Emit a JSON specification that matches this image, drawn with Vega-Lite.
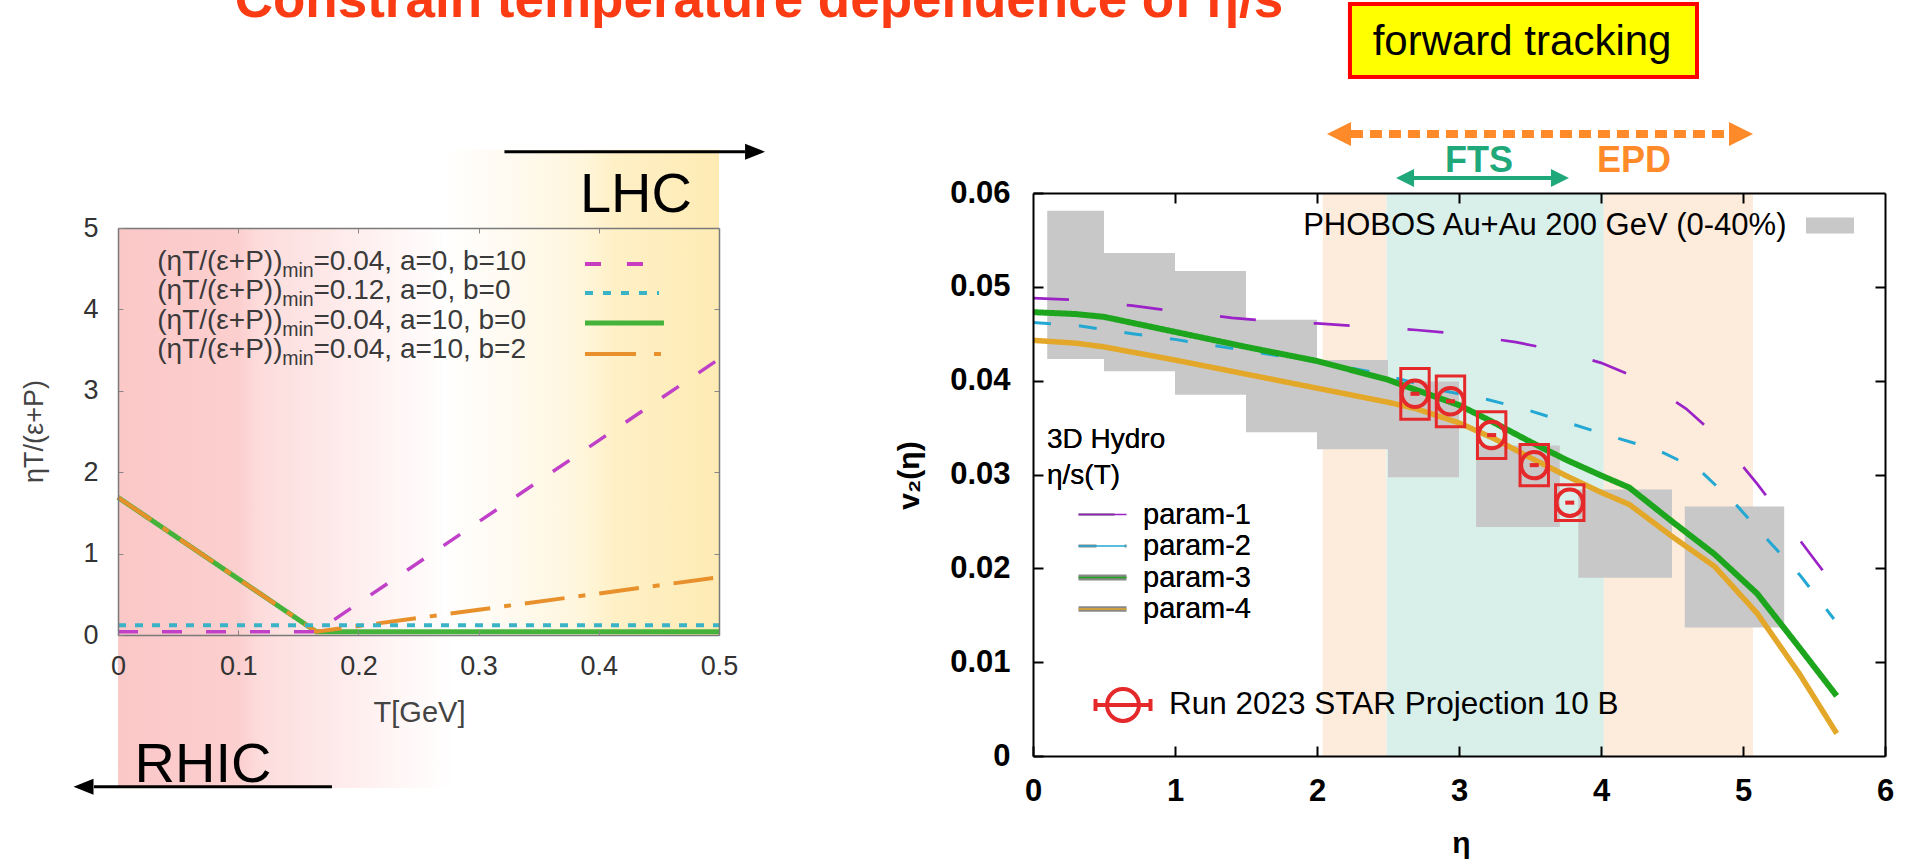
{
  "$schema": "https://vega.github.io/schema/vega-lite/v6.json",
  "width": 1911,
  "height": 864,
  "padding": 0,
  "autosize": {"type": "none"},
  "background": "white",
  "config": {
    "view": {"stroke": null},
    "font": "Liberation Sans",
    "axis": {"grid": false, "labelFlush": false, "labelOverlap": false},
    "legend": {"padding": 0, "labelLimit": 1000, "titleLimit": 1000}
  },
  "datasets": {
    "shear": [
      {"curve": "min=0.04, a=10, b=0", "T": 0, "ratio": 1.69},
      {"curve": "min=0.04, a=10, b=0", "T": 0.165, "ratio": 0.04},
      {"curve": "min=0.04, a=10, b=0", "T": 0.5, "ratio": 0.04},
      {"curve": "min=0.04, a=10, b=2", "T": 0, "ratio": 1.69},
      {"curve": "min=0.04, a=10, b=2", "T": 0.165, "ratio": 0.04},
      {"curve": "min=0.04, a=10, b=2", "T": 0.5, "ratio": 0.71},
      {"curve": "min=0.12, a=0, b=0", "T": 0, "ratio": 0.12},
      {"curve": "min=0.12, a=0, b=0", "T": 0.5, "ratio": 0.12},
      {"curve": "min=0.04, a=0, b=10", "T": 0, "ratio": 0.04},
      {"curve": "min=0.04, a=0, b=10", "T": 0.165, "ratio": 0.04},
      {"curve": "min=0.04, a=0, b=10", "T": 0.5, "ratio": 3.39}
    ],
    "bands": [
      {"detector": "EPD", "eta_lo": 2.04, "eta_hi": 2.49},
      {"detector": "FTS", "eta_lo": 2.49, "eta_hi": 4.02},
      {"detector": "EPD", "eta_lo": 4.02, "eta_hi": 5.07}
    ],
    "phobos": [
      {"dataset": "PHOBOS Au+Au 200 GeV (0-40%)", "eta_lo": 0.1, "eta_hi": 0.5, "v2_lo": 0.0423, "v2_hi": 0.0581},
      {"dataset": "PHOBOS Au+Au 200 GeV (0-40%)", "eta_lo": 0.5, "eta_hi": 1.0, "v2_lo": 0.0410, "v2_hi": 0.0536},
      {"dataset": "PHOBOS Au+Au 200 GeV (0-40%)", "eta_lo": 1.0, "eta_hi": 1.5, "v2_lo": 0.0385, "v2_hi": 0.0517},
      {"dataset": "PHOBOS Au+Au 200 GeV (0-40%)", "eta_lo": 1.5, "eta_hi": 2.0, "v2_lo": 0.0345, "v2_hi": 0.0465},
      {"dataset": "PHOBOS Au+Au 200 GeV (0-40%)", "eta_lo": 2.0, "eta_hi": 2.5, "v2_lo": 0.0327, "v2_hi": 0.0422},
      {"dataset": "PHOBOS Au+Au 200 GeV (0-40%)", "eta_lo": 2.5, "eta_hi": 3.0, "v2_lo": 0.0297, "v2_hi": 0.0399},
      {"dataset": "PHOBOS Au+Au 200 GeV (0-40%)", "eta_lo": 3.12, "eta_hi": 3.71, "v2_lo": 0.0244, "v2_hi": 0.0331},
      {"dataset": "PHOBOS Au+Au 200 GeV (0-40%)", "eta_lo": 3.84, "eta_hi": 4.5, "v2_lo": 0.0190, "v2_hi": 0.0284},
      {"dataset": "PHOBOS Au+Au 200 GeV (0-40%)", "eta_lo": 4.59, "eta_hi": 5.29, "v2_lo": 0.0137, "v2_hi": 0.0266}
    ],
    "hydro": [
      {"param": "param-1", "eta": 0, "v2": 0.0488},
      {"param": "param-1", "eta": 0.3, "v2": 0.0486},
      {"param": "param-1", "eta": 0.7, "v2": 0.0480},
      {"param": "param-1", "eta": 1.0, "v2": 0.0474},
      {"param": "param-1", "eta": 1.4, "v2": 0.0467},
      {"param": "param-1", "eta": 1.7, "v2": 0.0463},
      {"param": "param-1", "eta": 2.0, "v2": 0.0461},
      {"param": "param-1", "eta": 2.3, "v2": 0.0458},
      {"param": "param-1", "eta": 2.7, "v2": 0.0454},
      {"param": "param-1", "eta": 3.0, "v2": 0.0450},
      {"param": "param-1", "eta": 3.4, "v2": 0.0441},
      {"param": "param-1", "eta": 3.7, "v2": 0.0432},
      {"param": "param-1", "eta": 4.0, "v2": 0.0419},
      {"param": "param-1", "eta": 4.3, "v2": 0.0400},
      {"param": "param-1", "eta": 4.6, "v2": 0.0370},
      {"param": "param-1", "eta": 4.85, "v2": 0.0336},
      {"param": "param-1", "eta": 5.1, "v2": 0.0290},
      {"param": "param-1", "eta": 5.3, "v2": 0.0250},
      {"param": "param-1", "eta": 5.5, "v2": 0.0210},
      {"param": "param-1", "eta": 5.66, "v2": 0.0178},
      {"param": "param-2", "eta": 0, "v2": 0.0462},
      {"param": "param-2", "eta": 0.3, "v2": 0.0459},
      {"param": "param-2", "eta": 0.7, "v2": 0.0450},
      {"param": "param-2", "eta": 1.0, "v2": 0.0444},
      {"param": "param-2", "eta": 1.5, "v2": 0.0432},
      {"param": "param-2", "eta": 2.0, "v2": 0.0420},
      {"param": "param-2", "eta": 2.4, "v2": 0.0409},
      {"param": "param-2", "eta": 2.9, "v2": 0.0389},
      {"param": "param-2", "eta": 3.2, "v2": 0.0380},
      {"param": "param-2", "eta": 3.5, "v2": 0.0368},
      {"param": "param-2", "eta": 3.75, "v2": 0.0356},
      {"param": "param-2", "eta": 4.0, "v2": 0.0344},
      {"param": "param-2", "eta": 4.4, "v2": 0.0326},
      {"param": "param-2", "eta": 4.7, "v2": 0.0304},
      {"param": "param-2", "eta": 4.95, "v2": 0.0268},
      {"param": "param-2", "eta": 5.2, "v2": 0.0226},
      {"param": "param-2", "eta": 5.4, "v2": 0.0193},
      {"param": "param-2", "eta": 5.64, "v2": 0.0146},
      {"param": "param-3", "eta": 0, "v2": 0.0473},
      {"param": "param-3", "eta": 0.3, "v2": 0.0471},
      {"param": "param-3", "eta": 0.5, "v2": 0.0468},
      {"param": "param-3", "eta": 1.0, "v2": 0.0452},
      {"param": "param-3", "eta": 1.5, "v2": 0.0436},
      {"param": "param-3", "eta": 2.0, "v2": 0.0421},
      {"param": "param-3", "eta": 2.5, "v2": 0.0401},
      {"param": "param-3", "eta": 2.7, "v2": 0.0390},
      {"param": "param-3", "eta": 3.0, "v2": 0.0374},
      {"param": "param-3", "eta": 3.25, "v2": 0.0355},
      {"param": "param-3", "eta": 3.5, "v2": 0.0335},
      {"param": "param-3", "eta": 3.75, "v2": 0.0316},
      {"param": "param-3", "eta": 4.0, "v2": 0.0299},
      {"param": "param-3", "eta": 4.2, "v2": 0.0286},
      {"param": "param-3", "eta": 4.5, "v2": 0.0250},
      {"param": "param-3", "eta": 4.8, "v2": 0.0215},
      {"param": "param-3", "eta": 5.1, "v2": 0.0173},
      {"param": "param-3", "eta": 5.4, "v2": 0.0115},
      {"param": "param-3", "eta": 5.66, "v2": 0.0064},
      {"param": "param-4", "eta": 0, "v2": 0.0443},
      {"param": "param-4", "eta": 0.3, "v2": 0.0440},
      {"param": "param-4", "eta": 0.5, "v2": 0.0436},
      {"param": "param-4", "eta": 1.0, "v2": 0.0422},
      {"param": "param-4", "eta": 1.5, "v2": 0.0407},
      {"param": "param-4", "eta": 2.0, "v2": 0.0392},
      {"param": "param-4", "eta": 2.5, "v2": 0.0377},
      {"param": "param-4", "eta": 2.7, "v2": 0.0370},
      {"param": "param-4", "eta": 3.0, "v2": 0.0355},
      {"param": "param-4", "eta": 3.25, "v2": 0.0338},
      {"param": "param-4", "eta": 3.5, "v2": 0.0318},
      {"param": "param-4", "eta": 3.75, "v2": 0.0299},
      {"param": "param-4", "eta": 4.0, "v2": 0.0281},
      {"param": "param-4", "eta": 4.2, "v2": 0.0268},
      {"param": "param-4", "eta": 4.5, "v2": 0.0234},
      {"param": "param-4", "eta": 4.8, "v2": 0.0202},
      {"param": "param-4", "eta": 5.1, "v2": 0.0152},
      {"param": "param-4", "eta": 5.4, "v2": 0.0087},
      {"param": "param-4", "eta": 5.66, "v2": 0.0024}
    ],
    "star": [
      {"series": "Run 2023 STAR Projection 10 B", "eta": 2.69, "v2": 0.0386, "eta_lo": 2.59, "eta_hi": 2.79, "v2_lo": 0.0359, "v2_hi": 0.0413},
      {"series": "Run 2023 STAR Projection 10 B", "eta": 2.94, "v2": 0.0378, "eta_lo": 2.84, "eta_hi": 3.04, "v2_lo": 0.0351, "v2_hi": 0.0405},
      {"series": "Run 2023 STAR Projection 10 B", "eta": 3.23, "v2": 0.0342, "eta_lo": 3.13, "eta_hi": 3.33, "v2_lo": 0.0317, "v2_hi": 0.0367},
      {"series": "Run 2023 STAR Projection 10 B", "eta": 3.53, "v2": 0.0310, "eta_lo": 3.43, "eta_hi": 3.63, "v2_lo": 0.0288, "v2_hi": 0.0332},
      {"series": "Run 2023 STAR Projection 10 B", "eta": 3.78, "v2": 0.0270, "eta_lo": 3.68, "eta_hi": 3.88, "v2_lo": 0.0251, "v2_hi": 0.0289}
    ]
  },
  "resolve": {"scale": {"x": "independent", "y": "independent", "color": "independent", "strokeDash": "independent", "strokeWidth": "independent"}},
  "layer": [
    {
      "resolve": {"axis": {"x": "independent", "y": "independent"}},
      "layer": [
        {
          "data": {"values": [{}]},
          "mark": {"type": "rect", "fill": {"gradient": "linear", "x1": 0, "y1": 0, "x2": 1, "y2": 0, "stops": [
            {"offset": 0, "color": "#fbc7c7"}, {"offset": 0.36, "color": "#fccfcf"}, {"offset": 0.42, "color": "#fddcdc"},
            {"offset": 0.65, "color": "#feeaea"}, {"offset": 0.85, "color": "#fff7f7"}, {"offset": 1, "color": "#ffffff"}]}},
          "encoding": {
            "x": {"datum": 0, "type": "quantitative", "scale": {"domain": [0, 0.5], "range": [118, 719], "nice": false, "zero": false}, "axis": null},
            "x2": {"datum": 0.28},
            "y": {"datum": -1.88, "type": "quantitative", "scale": {"domain": [0, 5], "range": [635, 228], "nice": false, "zero": false}, "axis": null},
            "y2": {"datum": 5}
          }
        },
        {
          "data": {"values": [{}]},
          "mark": {"type": "rect", "fill": {"gradient": "linear", "x1": 0, "y1": 0, "x2": 1, "y2": 0, "stops": [
            {"offset": 0, "color": "#ffffff"}, {"offset": 0.25, "color": "#fffaf0"}, {"offset": 0.5, "color": "#fff6dc"},
            {"offset": 0.62, "color": "#fff0c6"}, {"offset": 1, "color": "#feebb4"}]}},
          "encoding": {
            "x": {"datum": 0.27, "type": "quantitative", "scale": {"domain": [0, 0.5], "range": [118, 719], "nice": false, "zero": false}, "axis": null},
            "x2": {"datum": 0.5},
            "y": {"datum": 0, "type": "quantitative", "scale": {"domain": [0, 5], "range": [635, 228], "nice": false, "zero": false}, "axis": null},
            "y2": {"datum": 5.96}
          }
        },
        {
          "data": {"name": "shear"},
          "transform": [{"filter": {"field": "curve", "oneOf": ["min=0.04, a=10, b=0", "min=0.04, a=10, b=2"]}}],
          "mark": {"type": "line"},
          "encoding": {
            "x": {"field": "T", "type": "quantitative", "scale": {"domain": [0, 0.5], "range": [118, 719], "nice": false, "zero": false},
              "axis": {"orient": "bottom", "offset": -229, "zindex": 1, "values": [0, 0.1, 0.2, 0.3, 0.4, 0.5], "labelExpr": "datum.value == 0 ? '0' : format(datum.value, '.1f')",
                "labelFontSize": 27, "labelColor": "#333333", "labelPadding": 23, "tickSize": -5, "tickColor": "#888888", "domainColor": "#7a7a7a", "domainWidth": 1.5,
                "title": "T[GeV]", "titleFontSize": 29, "titleFontWeight": "normal", "titleColor": "#444444", "titleX": 419, "titleY": 77, "titleBaseline": "middle", "titleAlign": "center"}},
            "y": {"field": "ratio", "type": "quantitative", "scale": {"domain": [0, 5], "range": [635, 228], "nice": false, "zero": false},
              "axis": {"orient": "left", "offset": -118, "zindex": 1, "values": [0, 1, 2, 3, 4, 5], "labelFontSize": 27, "labelColor": "#333333", "labelPadding": 25,
                "tickSize": -5, "tickColor": "#888888", "domainColor": "#7a7a7a", "domainWidth": 1.5,
                "title": "ηT/(ε+P)", "titleFontSize": 27, "titleFontWeight": "normal", "titleColor": "#444444", "titleX": -84, "titleY": 431, "titleBaseline": "middle", "titleAlign": "center"}},
            "color": {"field": "curve", "type": "nominal", "legend": null,
              "scale": {"domain": ["min=0.04, a=0, b=10", "min=0.12, a=0, b=0", "min=0.04, a=10, b=0", "min=0.04, a=10, b=2"], "range": ["#c040c8", "#3ab3c6", "#45b23a", "#e8912c"]}},
            "strokeDash": {"field": "curve", "type": "nominal", "legend": null,
              "scale": {"domain": ["min=0.04, a=0, b=10", "min=0.12, a=0, b=0", "min=0.04, a=10, b=0", "min=0.04, a=10, b=2"], "range": [[20, 24], [8, 9], [1, 0], [40, 14, 7, 14]]}},
            "strokeWidth": {"field": "curve", "type": "ordinal", "legend": null,
              "scale": {"type": "ordinal", "domain": ["min=0.04, a=0, b=10", "min=0.12, a=0, b=0", "min=0.04, a=10, b=0", "min=0.04, a=10, b=2"], "range": [3.5, 4, 5, 4]}}
          }
        },
        {
          "data": {"name": "shear"},
          "transform": [{"filter": {"field": "curve", "oneOf": ["min=0.12, a=0, b=0", "min=0.04, a=0, b=10"]}}],
          "mark": {"type": "line"},
          "encoding": {
            "x": {"field": "T", "type": "quantitative", "scale": {"domain": [0, 0.5], "range": [118, 719], "nice": false, "zero": false},
              "axis": {"orient": "top", "offset": -228, "zindex": 1, "values": [0.1, 0.2, 0.3, 0.4], "labels": false, "tickSize": -5, "tickColor": "#888888", "domainColor": "#7a7a7a", "domainWidth": 1.5, "title": null}},
            "y": {"field": "ratio", "type": "quantitative", "scale": {"domain": [0, 5], "range": [635, 228], "nice": false, "zero": false},
              "axis": {"orient": "right", "offset": -1192, "zindex": 1, "values": [1, 2, 3, 4], "labels": false, "tickSize": -5, "tickColor": "#888888", "domainColor": "#7a7a7a", "domainWidth": 1.5, "title": null}},
            "color": {"field": "curve", "type": "nominal", "legend": null,
              "scale": {"domain": ["min=0.04, a=0, b=10", "min=0.12, a=0, b=0", "min=0.04, a=10, b=0", "min=0.04, a=10, b=2"], "range": ["#c040c8", "#3ab3c6", "#45b23a", "#e8912c"]}},
            "strokeDash": {"field": "curve", "type": "nominal", "legend": null,
              "scale": {"domain": ["min=0.04, a=0, b=10", "min=0.12, a=0, b=0", "min=0.04, a=10, b=0", "min=0.04, a=10, b=2"], "range": [[20, 24], [8, 9], [1, 0], [40, 14, 7, 14]]}},
            "strokeWidth": {"field": "curve", "type": "ordinal", "legend": null,
              "scale": {"type": "ordinal", "domain": ["min=0.04, a=0, b=10", "min=0.12, a=0, b=0", "min=0.04, a=10, b=0", "min=0.04, a=10, b=2"], "range": [3.5, 4, 5, 4]}}
          }
        },
        {
          "data": {"values": [{}]},
          "mark": {"type": "text", "text": ["(ηT/(ε+P))", "(ηT/(ε+P))", "(ηT/(ε+P))", "(ηT/(ε+P))"], "align": "right", "baseline": "alphabetic", "dx": -15.5, "fontSize": 28, "lineHeight": 29.4, "color": "#3a3a3a"},
          "encoding": {
            "x": {"datum": 0.14975, "type": "quantitative", "scale": {"domain": [0, 0.5], "range": [118, 719], "nice": false, "zero": false}, "axis": null},
            "y": {"datum": 4.484, "type": "quantitative", "scale": {"domain": [0, 5], "range": [635, 228], "nice": false, "zero": false}, "axis": null}
          }
        },
        {
          "data": {"values": [{}]},
          "mark": {"type": "text", "text": ["min", "min", "min", "min"], "align": "center", "baseline": "alphabetic", "dy": 7, "fontSize": 19.5, "lineHeight": 29.4, "color": "#3a3a3a"},
          "encoding": {
            "x": {"datum": 0.14975, "type": "quantitative", "scale": {"domain": [0, 0.5], "range": [118, 719], "nice": false, "zero": false}, "axis": null},
            "y": {"datum": 4.484, "type": "quantitative", "scale": {"domain": [0, 5], "range": [635, 228], "nice": false, "zero": false}, "axis": null}
          }
        },
        {
          "data": {"values": [{}]},
          "mark": {"type": "text", "text": ["=0.04, a=0, b=10", "=0.12, a=0, b=0", "=0.04, a=10, b=0", "=0.04, a=10, b=2"], "align": "left", "baseline": "alphabetic", "dx": 15.5, "fontSize": 28, "lineHeight": 29.4, "color": "#3a3a3a"},
          "encoding": {
            "x": {"datum": 0.14975, "type": "quantitative", "scale": {"domain": [0, 0.5], "range": [118, 719], "nice": false, "zero": false}, "axis": null},
            "y": {"datum": 4.484, "type": "quantitative", "scale": {"domain": [0, 5], "range": [635, 228], "nice": false, "zero": false}, "axis": null}
          }
        },
        {
          "data": {"values": [{}]},
          "mark": {"type": "rule", "color": "#c83cc0", "strokeWidth": 4, "strokeDash": [16, 26]},
          "encoding": {
            "x": {"datum": 0.3885, "type": "quantitative", "scale": {"domain": [0, 0.5], "range": [118, 719], "nice": false, "zero": false}, "axis": null},
            "x2": {"datum": 0.4384},
            "y": {"datum": 4.5577, "type": "quantitative", "scale": {"domain": [0, 5], "range": [635, 228], "nice": false, "zero": false}, "axis": null}
          }
        },
        {
          "data": {"values": [{}]},
          "mark": {"type": "rule", "color": "#3ab3c6", "strokeWidth": 4, "strokeDash": [8, 10]},
          "encoding": {
            "x": {"datum": 0.3885, "type": "quantitative", "scale": {"domain": [0, 0.5], "range": [118, 719], "nice": false, "zero": false}, "axis": null},
            "x2": {"datum": 0.4501},
            "y": {"datum": 4.2015, "type": "quantitative", "scale": {"domain": [0, 5], "range": [635, 228], "nice": false, "zero": false}, "axis": null}
          }
        },
        {
          "data": {"values": [{}]},
          "mark": {"type": "rule", "color": "#45b23a", "strokeWidth": 5},
          "encoding": {
            "x": {"datum": 0.3885, "type": "quantitative", "scale": {"domain": [0, 0.5], "range": [118, 719], "nice": false, "zero": false}, "axis": null},
            "x2": {"datum": 0.4542},
            "y": {"datum": 3.8329, "type": "quantitative", "scale": {"domain": [0, 5], "range": [635, 228], "nice": false, "zero": false}, "axis": null}
          }
        },
        {
          "data": {"values": [{}]},
          "mark": {"type": "rule", "color": "#e8912c", "strokeWidth": 4, "strokeDash": [51, 18, 7, 18]},
          "encoding": {
            "x": {"datum": 0.3885, "type": "quantitative", "scale": {"domain": [0, 0.5], "range": [118, 719], "nice": false, "zero": false}, "axis": null},
            "x2": {"datum": 0.4517},
            "y": {"datum": 3.4521, "type": "quantitative", "scale": {"domain": [0, 5], "range": [635, 228], "nice": false, "zero": false}, "axis": null}
          }
        },
        {
          "data": {"values": [{}]},
          "mark": {"type": "text", "text": "LHC", "align": "center", "baseline": "alphabetic", "fontSize": 56, "color": "#000000"},
          "encoding": {
            "x": {"datum": 0.4309, "type": "quantitative", "scale": {"domain": [0, 0.5], "range": [118, 719], "nice": false, "zero": false}, "axis": null},
            "y": {"datum": 5.1966, "type": "quantitative", "scale": {"domain": [0, 5], "range": [635, 228], "nice": false, "zero": false}, "axis": null}
          }
        },
        {
          "data": {"values": [{}]},
          "mark": {"type": "text", "text": "RHIC", "align": "center", "baseline": "alphabetic", "fontSize": 56, "color": "#000000"},
          "encoding": {
            "x": {"datum": 0.0707, "type": "quantitative", "scale": {"domain": [0, 0.5], "range": [118, 719], "nice": false, "zero": false}, "axis": null},
            "y": {"datum": -1.806, "type": "quantitative", "scale": {"domain": [0, 5], "range": [635, 228], "nice": false, "zero": false}, "axis": null}
          }
        },
        {
          "data": {"values": [{}]},
          "mark": {"type": "rule", "color": "#000000", "strokeWidth": 3},
          "encoding": {
            "x": {"datum": 0.3215, "type": "quantitative", "scale": {"domain": [0, 0.5], "range": [118, 719], "nice": false, "zero": false}, "axis": null},
            "x2": {"datum": 0.5216},
            "y": {"datum": 5.9373, "type": "quantitative", "scale": {"domain": [0, 5], "range": [635, 228], "nice": false, "zero": false}, "axis": null}
          }
        },
        {
          "data": {"values": [{}]},
          "mark": {"type": "point", "shape": "M-1,-0.8L1,0L-1,0.8Z", "filled": true, "color": "#000000", "opacity": 1, "size": 400},
          "encoding": {
            "x": {"datum": 0.53, "type": "quantitative", "scale": {"domain": [0, 0.5], "range": [118, 719], "nice": false, "zero": false}, "axis": null},
            "y": {"datum": 5.9373, "type": "quantitative", "scale": {"domain": [0, 5], "range": [635, 228], "nice": false, "zero": false}, "axis": null}
          }
        },
        {
          "data": {"values": [{}]},
          "mark": {"type": "rule", "color": "#000000", "strokeWidth": 3},
          "encoding": {
            "x": {"datum": -0.02, "type": "quantitative", "scale": {"domain": [0, 0.5], "range": [118, 719], "nice": false, "zero": false}, "axis": null},
            "x2": {"datum": 0.178},
            "y": {"datum": -1.8636, "type": "quantitative", "scale": {"domain": [0, 5], "range": [635, 228], "nice": false, "zero": false}, "axis": null}
          }
        },
        {
          "data": {"values": [{}]},
          "mark": {"type": "point", "shape": "M1,-0.8L-1,0L1,0.8Z", "filled": true, "color": "#000000", "opacity": 1, "size": 400},
          "encoding": {
            "x": {"datum": -0.0287, "type": "quantitative", "scale": {"domain": [0, 0.5], "range": [118, 719], "nice": false, "zero": false}, "axis": null},
            "y": {"datum": -1.8636, "type": "quantitative", "scale": {"domain": [0, 5], "range": [635, 228], "nice": false, "zero": false}, "axis": null}
          }
        }
      ]
    },
    {
      "resolve": {"scale": {"color": "independent"}, "axis": {"x": "independent", "y": "independent"}},
      "layer": [
        {
          "data": {"name": "bands"},
          "mark": {"type": "rect"},
          "encoding": {
            "x": {"field": "eta_lo", "type": "quantitative", "scale": {"domain": [0, 6], "range": [1033, 1885], "nice": false, "zero": false}, "axis": null},
            "x2": {"field": "eta_hi"},
            "y": {"datum": 0, "type": "quantitative", "scale": {"domain": [0, 0.06], "range": [756, 193], "nice": false, "zero": false}, "axis": null},
            "y2": {"datum": 0.06},
            "color": {"field": "detector", "type": "nominal", "legend": null, "scale": {"domain": ["EPD", "FTS"], "range": ["#fdebdc", "#d9f0ea"]}}
          }
        },
        {
          "data": {"name": "phobos"},
          "mark": {"type": "rect"},
          "encoding": {
            "x": {"field": "eta_lo", "type": "quantitative", "scale": {"domain": [0, 6], "range": [1033, 1885], "nice": false, "zero": false},
              "axis": {"orient": "bottom", "offset": -108, "zindex": 1, "values": [0, 1, 2, 3, 4, 5, 6], "format": "d", "labelFontSize": 31, "labelFontWeight": "bold", "labelColor": "#000000", "labelPadding": 30,
                "tickSize": -10, "tickWidth": 2, "tickColor": "#000000", "domainColor": "#000000", "domainWidth": 2,
                "title": "η", "titleFontSize": 30, "titleFontWeight": "bold", "titleColor": "#000000", "titleX": 1461, "titleY": 96, "titleBaseline": "alphabetic", "titleAlign": "center"}},
            "x2": {"field": "eta_hi"},
            "y": {"field": "v2_lo", "type": "quantitative", "scale": {"domain": [0, 0.06], "range": [756, 193], "nice": false, "zero": false},
              "axis": {"orient": "left", "offset": -1033, "zindex": 1, "values": [0, 0.01, 0.02, 0.03, 0.04, 0.05, 0.06], "labelExpr": "datum.value == 0 ? '0' : format(datum.value, '.2f')",
                "labelFontSize": 31, "labelFontWeight": "bold", "labelColor": "#000000", "labelPadding": 33,
                "tickSize": -10, "tickWidth": 2, "tickColor": "#000000", "domainColor": "#000000", "domainWidth": 2,
                "title": "v₂(η)", "titleFontSize": 30, "titleFontWeight": "bold", "titleColor": "#000000", "titleX": -124, "titleY": 475, "titleBaseline": "middle", "titleAlign": "center"}},
            "y2": {"field": "v2_hi"},
            "color": {"field": "dataset", "type": "nominal", "scale": {"domain": ["PHOBOS Au+Au 200 GeV (0-40%)"], "range": ["#c8c8c8"]},
              "legend": {"orient": "none", "legendX": 1757, "legendY": 210, "title": null, "symbolType": "M-3,-1H3V1H-3Z", "symbolSize": 256, "symbolOffset": 57.5,
                "symbolStrokeWidth": 0, "labelAlign": "right", "labelOffset": -59, "labelFontSize": 31, "labelColor": "#000000"}}
          }
        },
        {
          "data": {"name": "hydro"},
          "mark": {"type": "line"},
          "encoding": {
            "x": {"field": "eta", "type": "quantitative", "scale": {"domain": [0, 6], "range": [1033, 1885], "nice": false, "zero": false},
              "axis": {"orient": "top", "offset": -193, "zindex": 1, "values": [1, 2, 3, 4, 5], "labels": false, "tickSize": -10, "tickWidth": 2, "tickColor": "#000000", "domainColor": "#000000", "domainWidth": 2, "title": null}},
            "y": {"field": "v2", "type": "quantitative", "scale": {"domain": [0, 0.06], "range": [756, 193], "nice": false, "zero": false},
              "axis": {"orient": "right", "offset": -26, "zindex": 1, "values": [0.01, 0.02, 0.03, 0.04, 0.05], "labels": false, "tickSize": -10, "tickWidth": 2, "tickColor": "#000000", "domainColor": "#000000", "domainWidth": 2, "title": null}},
            "color": {"field": "param", "type": "nominal",
              "scale": {"domain": ["param-1", "param-2", "param-3", "param-4"], "range": ["#9a22c6", "#22a8d2", "#1ea51e", "#e3a82a"]},
              "legend": {"orient": "none", "legendX": 1047, "legendY": 426, "title": ["3D Hydro", "η/s(T)"], "titleFontSize": 28, "titleFontWeight": "normal", "titleColor": "#000000",
                "titleLineHeight": 36, "titlePadding": 10, "titleBaseline": "top", "symbolType": "M-3,0H3", "symbolSize": 256, "symbolOffset": 41, "labelOffset": 26,
                "labelFontSize": 29, "labelColor": "#000000", "rowPadding": 1.5}},
            "strokeDash": {"field": "param", "type": "nominal",
              "scale": {"domain": ["param-1", "param-2", "param-3", "param-4"], "range": [[36, 58], [18, 28], [1, 0], [1, 0]]},
              "legend": {"orient": "none", "legendX": 1047, "legendY": 426, "title": ["3D Hydro", "η/s(T)"], "titleFontSize": 28, "titleFontWeight": "normal", "titleColor": "#000000",
                "titleLineHeight": 36, "titlePadding": 10, "titleBaseline": "top", "symbolType": "M-3,0H3", "symbolSize": 256, "symbolOffset": 41, "labelOffset": 26,
                "labelFontSize": 29, "labelColor": "#000000", "rowPadding": 1.5}},
            "strokeWidth": {"field": "param", "type": "ordinal",
              "scale": {"type": "ordinal", "domain": ["param-1", "param-2", "param-3", "param-4"], "range": [2.7, 3, 6, 5.5]},
              "legend": {"orient": "none", "legendX": 1047, "legendY": 426, "title": ["3D Hydro", "η/s(T)"], "titleFontSize": 28, "titleFontWeight": "normal", "titleColor": "#000000",
                "titleLineHeight": 36, "titlePadding": 10, "titleBaseline": "top", "symbolType": "M-3,0H3", "symbolSize": 256, "symbolOffset": 41, "labelOffset": 26,
                "labelFontSize": 29, "labelColor": "#000000", "rowPadding": 1.5}}
          }
        },
        {
          "data": {"name": "star"},
          "mark": {"type": "rect", "fillOpacity": 0, "stroke": "#e5282a", "strokeWidth": 3},
          "encoding": {
            "x": {"field": "eta_lo", "type": "quantitative", "scale": {"domain": [0, 6], "range": [1033, 1885], "nice": false, "zero": false}, "axis": null},
            "x2": {"field": "eta_hi"},
            "y": {"field": "v2_lo", "type": "quantitative", "scale": {"domain": [0, 0.06], "range": [756, 193], "nice": false, "zero": false}, "axis": null},
            "y2": {"field": "v2_hi"}
          }
        },
        {
          "data": {"name": "star"},
          "mark": {"type": "point", "shape": "circle", "filled": false, "opacity": 1, "size": 700, "strokeWidth": 4},
          "encoding": {
            "x": {"field": "eta", "type": "quantitative", "scale": {"domain": [0, 6], "range": [1033, 1885], "nice": false, "zero": false}, "axis": null},
            "y": {"field": "v2", "type": "quantitative", "scale": {"domain": [0, 0.06], "range": [756, 193], "nice": false, "zero": false}, "axis": null},
            "color": {"field": "series", "type": "nominal", "scale": {"domain": ["Run 2023 STAR Projection 10 B"], "range": ["#e5282a"]},
              "legend": {"orient": "none", "legendX": 1093.5, "legendY": 675.5, "title": null,
                "symbolType": "M-1,0H1M-1,-0.22V0.22M1,-0.22V0.22M0.58,0A0.58,0.58,0,1,1,-0.58,0A0.58,0.58,0,1,1,0.58,0",
                "symbolSize": 3025, "symbolStrokeWidth": 4, "symbolOffset": 0, "labelOffset": 16.5, "labelFontSize": 31.5, "labelColor": "#000000"}}
          }
        },
        {
          "data": {"name": "star"},
          "mark": {"type": "point", "shape": "M-1,-0.45H1V0.45H-1Z", "filled": true, "opacity": 1, "size": 81, "color": "#e5282a"},
          "encoding": {
            "x": {"field": "eta", "type": "quantitative", "scale": {"domain": [0, 6], "range": [1033, 1885], "nice": false, "zero": false}, "axis": null},
            "y": {"field": "v2", "type": "quantitative", "scale": {"domain": [0, 0.06], "range": [756, 193], "nice": false, "zero": false}, "axis": null}
          }
        },
        {
          "data": {"values": [{}]},
          "mark": {"type": "rule", "color": "#ff8a2a", "strokeWidth": 8, "strokeDash": [12, 7]},
          "encoding": {
            "x": {"datum": 2.239, "type": "quantitative", "scale": {"domain": [0, 6], "range": [1033, 1885], "nice": false, "zero": false}, "axis": null},
            "x2": {"datum": 4.901},
            "y": {"datum": 0.066288, "type": "quantitative", "scale": {"domain": [0, 0.06], "range": [756, 193], "nice": false, "zero": false}, "axis": null}
          }
        },
        {
          "data": {"values": [{}]},
          "mark": {"type": "point", "shape": "M1,-1L-1,0L1,1Z", "filled": true, "opacity": 1, "size": 576, "color": "#ff8a2a"},
          "encoding": {
            "x": {"datum": 2.155, "type": "quantitative", "scale": {"domain": [0, 6], "range": [1033, 1885], "nice": false, "zero": false}, "axis": null},
            "y": {"datum": 0.066288, "type": "quantitative", "scale": {"domain": [0, 0.06], "range": [756, 193], "nice": false, "zero": false}, "axis": null}
          }
        },
        {
          "data": {"values": [{}]},
          "mark": {"type": "point", "shape": "M-1,-1L1,0L-1,1Z", "filled": true, "opacity": 1, "size": 576, "color": "#ff8a2a"},
          "encoding": {
            "x": {"datum": 4.986, "type": "quantitative", "scale": {"domain": [0, 6], "range": [1033, 1885], "nice": false, "zero": false}, "axis": null},
            "y": {"datum": 0.066288, "type": "quantitative", "scale": {"domain": [0, 0.06], "range": [756, 193], "nice": false, "zero": false}, "axis": null}
          }
        },
        {
          "data": {"values": [{}]},
          "mark": {"type": "rule", "color": "#1fa87a", "strokeWidth": 4},
          "encoding": {
            "x": {"datum": 2.683, "type": "quantitative", "scale": {"domain": [0, 6], "range": [1033, 1885], "nice": false, "zero": false}, "axis": null},
            "x2": {"datum": 3.648},
            "y": {"datum": 0.061599, "type": "quantitative", "scale": {"domain": [0, 0.06], "range": [756, 193], "nice": false, "zero": false}, "axis": null}
          }
        },
        {
          "data": {"values": [{}]},
          "mark": {"type": "point", "shape": "M1,-1L-1,0L1,1Z", "filled": true, "opacity": 1, "size": 324, "color": "#1fa87a"},
          "encoding": {
            "x": {"datum": 2.62, "type": "quantitative", "scale": {"domain": [0, 6], "range": [1033, 1885], "nice": false, "zero": false}, "axis": null},
            "y": {"datum": 0.061599, "type": "quantitative", "scale": {"domain": [0, 0.06], "range": [756, 193], "nice": false, "zero": false}, "axis": null}
          }
        },
        {
          "data": {"values": [{}]},
          "mark": {"type": "point", "shape": "M-1,-1L1,0L-1,1Z", "filled": true, "opacity": 1, "size": 324, "color": "#1fa87a"},
          "encoding": {
            "x": {"datum": 3.711, "type": "quantitative", "scale": {"domain": [0, 6], "range": [1033, 1885], "nice": false, "zero": false}, "axis": null},
            "y": {"datum": 0.061599, "type": "quantitative", "scale": {"domain": [0, 0.06], "range": [756, 193], "nice": false, "zero": false}, "axis": null}
          }
        },
        {
          "data": {"values": [{}]},
          "mark": {"type": "text", "text": "FTS", "align": "center", "baseline": "alphabetic", "fontSize": 36, "fontWeight": "bold", "color": "#1fa87a"},
          "encoding": {
            "x": {"datum": 3.141, "type": "quantitative", "scale": {"domain": [0, 6], "range": [1033, 1885], "nice": false, "zero": false}, "axis": null},
            "y": {"datum": 0.06224, "type": "quantitative", "scale": {"domain": [0, 0.06], "range": [756, 193], "nice": false, "zero": false}, "axis": null}
          }
        },
        {
          "data": {"values": [{}]},
          "mark": {"type": "text", "text": "EPD", "align": "center", "baseline": "alphabetic", "fontSize": 36, "fontWeight": "bold", "color": "#ff8a2a"},
          "encoding": {
            "x": {"datum": 4.232, "type": "quantitative", "scale": {"domain": [0, 6], "range": [1033, 1885], "nice": false, "zero": false}, "axis": null},
            "y": {"datum": 0.06224, "type": "quantitative", "scale": {"domain": [0, 0.06], "range": [756, 193], "nice": false, "zero": false}, "axis": null}
          }
        },
        {
          "data": {"values": [{}]},
          "mark": {"type": "text", "text": "Constrain temperature dependence of η/s", "align": "center", "baseline": "alphabetic", "fontSize": 53, "fontWeight": "bold", "color": "#fb3b13"},
          "encoding": {
            "x": {"datum": -1.93, "type": "quantitative", "scale": {"domain": [0, 6], "range": [1033, 1885], "nice": false, "zero": false}, "axis": null},
            "y": {"datum": 0.078758, "type": "quantitative", "scale": {"domain": [0, 0.06], "range": [756, 193], "nice": false, "zero": false}, "axis": null}
          }
        },
        {
          "data": {"values": [{}]},
          "mark": {"type": "rect", "fill": "#ffff00", "stroke": "#ff0000", "strokeWidth": 4},
          "encoding": {
            "x": {"datum": 2.232, "type": "quantitative", "scale": {"domain": [0, 6], "range": [1033, 1885], "nice": false, "zero": false}, "axis": null},
            "x2": {"datum": 4.676},
            "y": {"datum": 0.072362, "type": "quantitative", "scale": {"domain": [0, 0.06], "range": [756, 193], "nice": false, "zero": false}, "axis": null},
            "y2": {"datum": 0.080142}
          }
        },
        {
          "data": {"values": [{}]},
          "mark": {"type": "text", "text": "forward tracking", "align": "center", "baseline": "alphabetic", "fontSize": 42, "color": "#000000"},
          "encoding": {
            "x": {"datum": 3.444, "type": "quantitative", "scale": {"domain": [0, 6], "range": [1033, 1885], "nice": false, "zero": false}, "axis": null},
            "y": {"datum": 0.074708, "type": "quantitative", "scale": {"domain": [0, 0.06], "range": [756, 193], "nice": false, "zero": false}, "axis": null}
          }
        }
      ]
    }
  ]
}
